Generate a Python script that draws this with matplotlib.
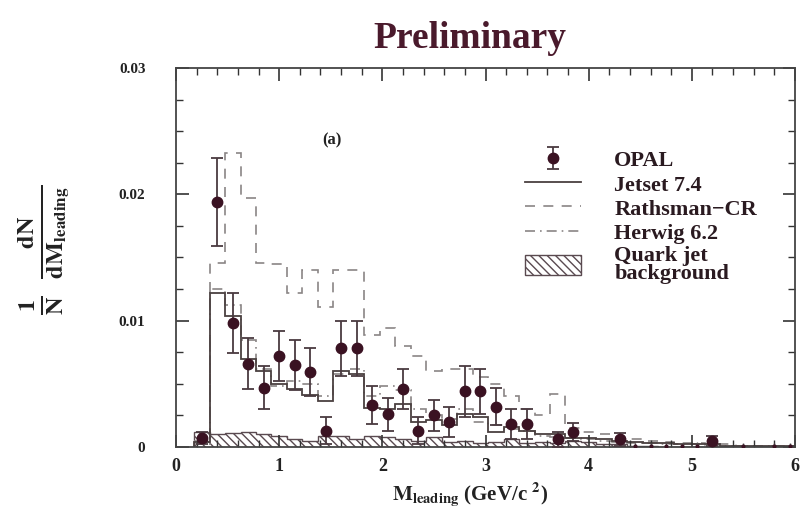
import numpy as np
import matplotlib
matplotlib.use("Agg")
import matplotlib.pyplot as plt
from matplotlib.lines import Line2D
from matplotlib.patches import Patch
from matplotlib.ticker import MultipleLocator, FixedLocator, FixedFormatter

plt.rcParams['font.family'] = ['Liberation Serif', 'DejaVu Serif']
plt.rcParams['font.weight'] = 'bold'
plt.rcParams['mathtext.fontset'] = 'stix'
plt.rcParams['mathtext.default'] = 'bf'
plt.rcParams['hatch.linewidth'] = 1.0

# ---------------- data ----------------
bin_edges = [0.175 + 0.15 * k for k in range(40)]

jetset = [0.0004, 0.0122, 0.0104, 0.0070, 0.0060, 0.0050, 0.0046, 0.0041, 0.0036, 0.0060,
          0.0058, 0.0031, 0.0030, 0.0034, 0.0020, 0.0021, 0.0017, 0.0026, 0.0024, 0.0012,
          0.0016, 0.0013, 0.0010, 0.0010, 0.0007, 0.0007, 0.0006, 0.0005, 0.0004, 0.0003,
          0.0003, 0.0002, 0.0002, 0.0002, 0.0001, 0.0001, 0.0001, 0.0001, 0.0001]

herwig = [0.0002, 0.0125, 0.0112, 0.0085, 0.0062, 0.0048, 0.0052, 0.0050, 0.0040, 0.0058,
          0.0062, 0.0040, 0.0048, 0.0045, 0.0030, 0.0025, 0.0022, 0.0030, 0.0020, 0.0017,
          0.0014, 0.0013, 0.0009, 0.0008, 0.0007, 0.0006, 0.0005, 0.0004, 0.0003, 0.0003,
          0.0002, 0.0002, 0.0002, 0.0001, 0.0001, 0.0001, 0.0001, 0.0001, 0.0001]

rathsman = [0.0005, 0.0146, 0.0233, 0.0197, 0.0146, 0.0145, 0.0122, 0.0140, 0.0111, 0.0140,
            0.0140, 0.0089, 0.0094, 0.0080, 0.0072, 0.0060, 0.0062, 0.0062, 0.0055, 0.0050,
            0.0040, 0.0030, 0.0025, 0.0042, 0.0015, 0.0012, 0.0010, 0.0008, 0.0006, 0.0005,
            0.0004, 0.0003, 0.0003, 0.0002, 0.0002, 0.0001, 0.0001, 0.0001, 0.0001]

quark_bg = [0.0012, 0.0010, 0.0011, 0.0012, 0.0010, 0.0009, 0.0006, 0.0005, 0.0009, 0.0009,
            0.0006, 0.0009, 0.0008, 0.0006, 0.0005, 0.0008, 0.0004, 0.0005, 0.0003, 0.0004,
            0.0006, 0.0003, 0.0004, 0.0003, 0.0005, 0.0004, 0.0002, 0.0002, 0.0001, 0.0001,
            0.0, 0.0, 0.0, 0.0, 0.0, 0.0, 0.0, 0.0, 0.0]

opal_x = [0.25, 0.40, 0.55, 0.70, 0.85, 1.00, 1.15, 1.30, 1.45, 1.60, 1.75, 1.90, 2.05,
          2.20, 2.35, 2.50, 2.65, 2.80, 2.95, 3.10, 3.25, 3.40, 3.70, 3.85, 4.30, 5.20]
opal_y = [0.0007, 0.0194, 0.0098, 0.0066, 0.0047, 0.0072, 0.0065, 0.0059, 0.0013, 0.0078,
          0.0078, 0.0033, 0.0026, 0.0046, 0.0013, 0.0025, 0.0020, 0.0044, 0.0044, 0.0032,
          0.0018, 0.0018, 0.0006, 0.0012, 0.0006, 0.0005]
opal_err = [0.0005, 0.0035, 0.0024, 0.0020, 0.0017, 0.0020, 0.0020, 0.0019, 0.0011, 0.0022,
            0.0022, 0.0015, 0.0013, 0.0016, 0.0011, 0.0012, 0.0012, 0.0020, 0.0018, 0.0015,
            0.0012, 0.0012, 0.0006, 0.0007, 0.0005, 0.0004]

small_x = [4.45, 4.60, 4.75, 4.90, 5.05, 5.50, 5.80, 5.95]
small_y = [0.0001, 0.0001, 0.0001, 0.0001, 0.0001, 0.0001, 0.0001, 0.0001]
small_err = [0.0002, 0.0002, 0.0002, 0.0002, 0.0003, 0.0002, 0.0002, 0.0002]

xticks = [0, 1, 2, 3, 4, 5, 6]
yticks = [0, 0.01, 0.02, 0.03]
ytick_labels = ['0', '0.01', '0.02', '0.03']

# ---------------- plot ----------------
maroon = '#3a1222'
line_col = '#4a4040'
dash_col = '#8a8585'

fig = plt.figure(figsize=(8.02, 5.14), dpi=100)
ax = fig.add_axes([0.2195, 0.1304, 0.7718, 0.7373])

ax.stairs(quark_bg, bin_edges, fill=True, facecolor='none', edgecolor='#5a4a50',
          hatch='\\\\\\\\', linewidth=1.0)
ax.stairs(rathsman, bin_edges, baseline=None, color=dash_col, linestyle=(0, (6, 5)), linewidth=1.2)
ax.stairs(herwig, bin_edges, baseline=None, color=dash_col, linestyle=(0, (6, 3, 1, 3)), linewidth=1.2)
ax.stairs(jetset, bin_edges, color=line_col, linewidth=1.3)

opal_h = ax.errorbar(opal_x, opal_y, yerr=opal_err, fmt='o', color=maroon, ecolor='#4a3a40',
                     markersize=7.5, capsize=4, elinewidth=1.3, capthick=1.3, zorder=5)
ax.errorbar(small_x, small_y, yerr=small_err, fmt='o', color=maroon, ecolor='#555050',
            markersize=2, capsize=0, elinewidth=1.0, zorder=5)

ax.set_xlim(0, 6)
ax.set_ylim(0, 0.03)
ax.xaxis.set_major_locator(FixedLocator(xticks))
ax.yaxis.set_major_locator(FixedLocator(yticks))
ax.yaxis.set_major_formatter(FixedFormatter(ytick_labels))
ax.xaxis.set_minor_locator(MultipleLocator(0.2))
ax.yaxis.set_minor_locator(MultipleLocator(0.0025))
ax.tick_params(which='both', direction='in', top=True, right=True, color='#333333')
ax.tick_params(which='major', length=9, width=1.2)
ax.tick_params(which='minor', length=5, width=1.0)
ax.tick_params(axis='x', labelsize=13, pad=8)
ax.tick_params(axis='y', labelsize=11, pad=22)
for lab in ax.get_xticklabels() + ax.get_yticklabels():
    lab.set_fontweight('bold')
    lab.set_color('#222222')
for sp in ax.spines.values():
    sp.set_color('#444444')
    sp.set_linewidth(1.3)

ax.set_xlabel(r'$M_{leading}$ (GeV/c $^{2}$)', fontsize=15, fontweight='bold', color='#222222')
ax.xaxis.set_label_coords(0.475, -0.088)
ax.set_ylabel(r'$\frac{1}{N}\;\;\frac{dN}{dM_{leading}}$', fontsize=25, color='#222222', va='center')
ax.yaxis.set_label_coords(-0.212, 0.52)

ax.text(0.252, 0.81, '(a)', transform=ax.transAxes, fontsize=12, fontweight='bold',
        ha='center', va='center', color='#222222')

fig.text(0.586, 0.925, 'Preliminary', fontsize=27, fontweight='bold', color='#4a1a2c',
         ha='center', va='center')

handles = [
    opal_h,
    Line2D([], [], color=line_col, linewidth=1.3),
    Line2D([], [], color=dash_col, linestyle=(0, (6, 5)), linewidth=1.2),
    Line2D([], [], color=dash_col, linestyle=(0, (6, 3, 1, 3)), linewidth=1.2),
    Patch(facecolor='none', edgecolor='#5a4a50', hatch='\\\\\\\\', linewidth=1.0),
]
labels = ['OPAL', 'Jetset 7.4', 'Rathsman\u2212CR', 'Herwig 6.2', 'Quark jet\nbackground']
leg = ax.legend(handles, labels, loc='upper left', bbox_to_anchor=(0.55, 0.81),
                frameon=False, handlelength=2.5, handleheight=1.0,
                handletextpad=1.5, labelspacing=0.08, borderaxespad=0.0,
                prop={'weight': 'bold', 'size': 16})
for t in leg.get_texts():
    t.set_color('#2a1a20')
leg.get_texts()[-1].set_linespacing(0.85)

fig.savefig('out.png', dpi=100)
